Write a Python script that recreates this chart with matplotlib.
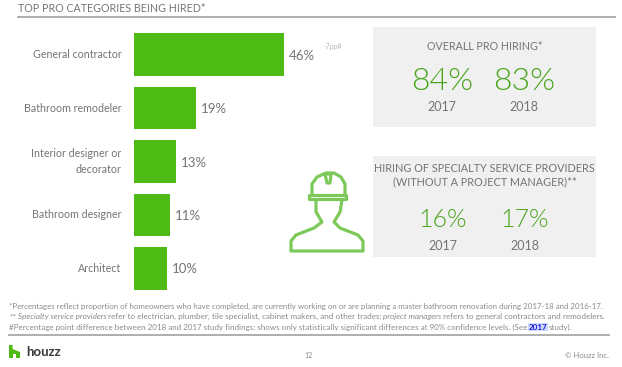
import matplotlib
matplotlib.use('Agg')
import matplotlib.pyplot as plt
from matplotlib.patches import Rectangle, Polygon

W, H = 622, 367

# values
categories = ['General contractor', 'Bathroom remodeler', 'Interior designer or\ndecorator',
              'Bathroom designer', 'Architect']
shares = [46, 19, 13, 11, 10]
years = ['2017', '2018']
overall_values = ['84%', '83%']
specialty_values = ['16%', '17%']

GREEN = '#4dbb14'
TEXT_GREEN = '#4aa51c'
GREY = '#747474'
NOTE = '#8a8a8a'
BOX = '#f0f0f0'

plt.rcParams['font.family'] = ['Lato', 'DejaVu Sans']

fig = plt.figure(figsize=(W / 100, H / 100), dpi=100)

# whole page in pixel coordinates
bg = fig.add_axes([0, 0, 1, 1])
bg.set_xlim(0, W)
bg.set_ylim(H, 0)
bg.axis('off')

bg.text(18, 8.5, 'TOP PRO CATEGORIES BEING HIRED*', fontsize=7.7, color=GREY, va='center')
bg.plot([18, 615], [16.5, 16.5], color='#a8a8a8', lw=1.3)

# bars
x0, y_top, y_bot = 134, 28, 295
ax = fig.add_axes([x0 / W, 1 - y_bot / H, 326.1 / W, (y_bot - y_top) / H])
ax.set_xlim(0, 100)
ax.set_ylim(4.5, -0.5)
ax.axis('off')
ax.barh(range(len(shares)), shares, height=0.8, color=GREEN)
for i, (c, v) in enumerate(zip(categories, shares)):
    ax.text(-3.9, i, c, ha='right', va='center', fontsize=7.7, color=GREY, linespacing=1.45)
    ax.text(v + 1.5, i + 0.02, f'{v}%', ha='left', va='center', fontsize=9.5, color=GREY)
ax.text(shares[0] + 12, -0.15, '-7pp#', fontsize=5, color='#b5b5b5', ha='left', va='center')

# grey boxes
bg.add_patch(Rectangle((373, 27), 223, 100, color=BOX, lw=0))
bg.add_patch(Rectangle((373, 156), 223, 101, color=BOX, lw=0))

bg.text(484.5, 46, 'OVERALL PRO HIRING*', fontsize=7.7, color=GREY, ha='center', va='center')
for x, v, y in zip([442, 524], overall_values, years):
    bg.text(x, 82, v, fontsize=23, color=TEXT_GREEN, ha='center', va='center', fontweight=300)
    bg.text(x, 107, y, fontsize=9, color=GREY, ha='center', va='center')

bg.text(484.5, 168.5, 'HIRING OF SPECIALTY SERVICE PROVIDERS', fontsize=7.8, color=GREY, ha='center', va='center')
bg.text(484.5, 182, '(WITHOUT A PROJECT MANAGER)**', fontsize=7.8, color=GREY, ha='center', va='center')
for x, v, y in zip([443, 525], specialty_values, years):
    bg.text(x, 220, v, fontsize=18, color=TEXT_GREEN, ha='center', va='center', fontweight=300)
    bg.text(x, 246, y, fontsize=9, color=GREY, ha='center', va='center')

# worker icon
icon = dict(fill=False, edgecolor='#7cc95a', lw=2.3, joinstyle='round')
bg.add_patch(Polygon([(312, 195), (312, 184), (317, 177), (326, 173), (334, 173), (341, 177),
                      (345, 184), (345, 195)], closed=False, **icon))
bg.add_patch(Polygon([(309, 195), (346, 195), (346, 199), (309, 199)], closed=True, **icon))
bg.add_patch(Polygon([(325, 174), (331, 174), (330, 183), (327, 183)], closed=True, **icon))
bg.add_patch(Polygon([(316, 200), (316, 212), (322, 222), (314, 228), (296, 235), (291, 241),
                      (291, 251), (363, 251), (363, 241), (358, 235), (340, 228), (334, 222),
                      (340, 212), (342, 200)], closed=False, **icon))


# footnotes, pieces placed one after the other
def chain(x, y, size, pieces):
    r = fig.canvas.get_renderer()
    for s, kw in pieces:
        t = bg.text(x, y, s, fontsize=size, va='center', **{'color': NOTE, **kw})
        x = bg.transData.inverted().transform(t.get_window_extent(r))[1][0] + 1.6


chain(9, 306, 5.66, [('*Percentages reflect proportion of homeowners who have completed, are currently working on or '
                      'are planning a master bathroom renovation during 2017-18 and 2016-17.', {})])
chain(9, 316.5, 5.85, [('**', {}), ('Specialty service providers', {'style': 'italic'}),
                       ('refer to electrician, plumber, tile specialist, cabinet makers, and other trades;', {}),
                       ('project managers', {'style': 'italic'}),
                       ('refers to general contractors and remodelers.', {})])
chain(9, 327, 5.8, [('#Percentage point difference between 2018 and 2017 study findings; shows only statistically '
                     'significant differences at 90% confidence levels. (See', {}),
                    ('2017', {'fontweight': 'bold', 'color': '#1a1ad8',
                              'bbox': dict(facecolor='#cfd8ff', edgecolor='none', pad=0.4)}),
                    ('study).', {})])
bg.plot([9, 609], [334.5, 334.5], color='#a8a8a8', lw=1.3)

# footer
bg.add_patch(Polygon([(9, 345), (12.5, 345), (12.5, 349), (20, 352), (20, 358), (16, 358),
                      (16, 354), (13, 354), (13, 358), (9, 358)], closed=True, color=GREEN, lw=0))
bg.text(26, 352, 'houzz', fontsize=9.5, color='#3a3a3a', va='center', fontweight='bold')
bg.text(308, 355, '12', fontsize=5, color=NOTE, ha='center', va='center')
bg.text(609, 355, '© Houzz Inc.', fontsize=5.6, color=NOTE, ha='right', va='center')

fig.savefig('out.png', dpi=100)
